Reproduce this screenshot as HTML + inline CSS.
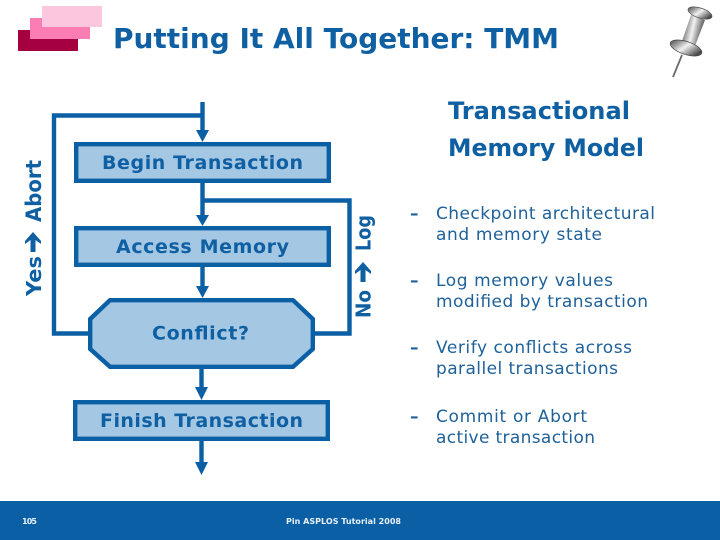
<!DOCTYPE html>
<html><head><meta charset="utf-8"><style>
html,body{margin:0;padding:0;background:#fff}
svg{display:block}
text{font-family:"DejaVu Sans","Liberation Sans",sans-serif;fill:#0f5fa3}
.b{font-weight:bold}
.body{fill:#1f6199;font-size:17px}
</style></head><body>
<svg width="720" height="540" viewBox="0 0 720 540" xmlns="http://www.w3.org/2000/svg">
<defs>
<linearGradient id="metal" x1="0" y1="0" x2="1" y2="0.3"><stop offset="0" stop-color="#3d3d3d"/><stop offset=".3" stop-color="#9a9a9a"/><stop offset=".55" stop-color="#f2f2f2"/><stop offset="1" stop-color="#4a4a4a"/></linearGradient>
</defs>
<rect x="18" y="30" width="60" height="21" fill="#a5003f"/>
<rect x="30" y="18" width="60" height="21" fill="#fb7db3"/>
<rect x="42" y="6" width="60" height="21" fill="#fdc6df"/>
<text class="b" x="113" y="48" font-size="28" textLength="446" lengthAdjust="spacingAndGlyphs">Putting It All Together: TMM</text>

<!-- pushpin -->
<g>
<line x1="682" y1="55" x2="673" y2="77" stroke="#6a6a6a" stroke-width="1.8"/>
<path d="M691 15 L705 20 L695 46 L682 41 Z" fill="url(#metal)"/>
<ellipse cx="700" cy="13" rx="12.5" ry="5" transform="rotate(18 700 13)" fill="url(#metal)" stroke="#555" stroke-width=".7"/>
<ellipse cx="686" cy="48" rx="16.5" ry="6.5" transform="rotate(18 686 48)" fill="url(#metal)" stroke="#444" stroke-width=".7"/>
</g>

<!-- connectors -->
<g fill="none" stroke="#0b5fa5" stroke-width="4.4">
<path d="M202.5 102 V132"/>
<path d="M202.5 183 V216"/>
<path d="M202.5 267 V288"/>
<path d="M201.5 369 V389"/>
<path d="M201.5 441 V464"/>
<path d="M202.5 115.5 H54 V333.5 H90"/>
<path d="M202.5 200.5 H349.5 V333.5 H313"/>
</g>
<g fill="#0b5fa5">
<path d="M196 130 H209 L202.5 142 Z"/>
<path d="M196 215 H209 L202.5 226 Z"/>
<path d="M196 286 H209 L202.5 298 Z"/>
<path d="M195 387 H208 L201.5 400 Z"/>
<path d="M195 462 H208 L201.5 475 Z"/>
</g>

<!-- boxes -->
<g fill="#a4c7e3" stroke="#0b5fa5" stroke-width="4.4">
<rect x="76.2" y="144.2" width="252.6" height="36.6"/>
<rect x="76.2" y="228.2" width="252.6" height="36.6"/>
<path d="M110 300.2 H293 L312.8 319 V349 L293 366.8 H110 L90.2 349 V319 Z"/>
<rect x="75.2" y="402.2" width="252.6" height="36.6"/>
</g>
<g class="b" font-size="19">
<text class="b" x="102" y="169" textLength="201" lengthAdjust="spacing">Begin Transaction</text>
<text class="b" x="116" y="253" textLength="173" lengthAdjust="spacing">Access Memory</text>
<text class="b" x="152" y="339.5" textLength="97" lengthAdjust="spacing">Conflict?</text>
<text class="b" x="100" y="427" textLength="203" lengthAdjust="spacing">Finish Transaction</text>
</g>

<!-- rotated labels -->
<text class="b" transform="translate(41,296) rotate(-90)" font-size="20" textLength="40" lengthAdjust="spacingAndGlyphs">Yes</text>
<text class="b" transform="translate(41,222) rotate(-90)" font-size="21" textLength="62" lengthAdjust="spacingAndGlyphs">Abort</text>
<path d="M33 232 L41 241 L41 244 L35.5 240 L35.5 252 L30.5 252 L30.5 240 L25 244 L25 241 Z" fill="#0f5fa3"/>
<text class="b" transform="translate(370.5,318) rotate(-90)" font-size="20" textLength="28" lengthAdjust="spacingAndGlyphs">No</text>
<text class="b" transform="translate(370.5,251) rotate(-90)" font-size="20" textLength="36" lengthAdjust="spacingAndGlyphs">Log</text>
<path d="M363 262 L371 271 L371 274 L365.5 270 L365.5 282 L360.5 282 L360.5 270 L355 274 L355 271 Z" fill="#0f5fa3"/>

<!-- right panel -->
<text class="b" x="448" y="119" font-size="24" textLength="182" lengthAdjust="spacingAndGlyphs">Transactional</text>
<text class="b" x="448" y="156" font-size="24" textLength="196" lengthAdjust="spacingAndGlyphs">Memory Model</text>

<g class="body">
<text class="body b" x="410" y="219">–</text>
<text class="body" x="436" y="219" textLength="219" lengthAdjust="spacing">Checkpoint architectural</text>
<text class="body" x="436" y="240" textLength="166" lengthAdjust="spacing">and memory state</text>
<text class="body b" x="410" y="286">–</text>
<text class="body" x="436" y="286" textLength="177" lengthAdjust="spacing">Log memory values</text>
<text class="body" x="436" y="307" textLength="212" lengthAdjust="spacing">modified by transaction</text>
<text class="body b" x="410" y="353">–</text>
<text class="body" x="436" y="353" textLength="196" lengthAdjust="spacing">Verify conflicts across</text>
<text class="body" x="436" y="374" textLength="182" lengthAdjust="spacing">parallel transactions</text>
<text class="body b" x="410" y="422">–</text>
<text class="body" x="436" y="422" textLength="151" lengthAdjust="spacing">Commit or Abort</text>
<text class="body" x="436" y="443" textLength="159" lengthAdjust="spacing">active transaction</text>
</g>

<!-- footer -->
<rect x="0" y="501" width="720" height="39" fill="#0b5fa5"/>
<text class="b" x="22" y="524" font-size="8" style="fill:#e8f0f7" textLength="15" lengthAdjust="spacing">105</text>
<text class="b" x="286" y="524" font-size="8" style="fill:#e8f0f7" textLength="115" lengthAdjust="spacing">Pin ASPLOS Tutorial 2008</text>
</svg>
</body></html>
